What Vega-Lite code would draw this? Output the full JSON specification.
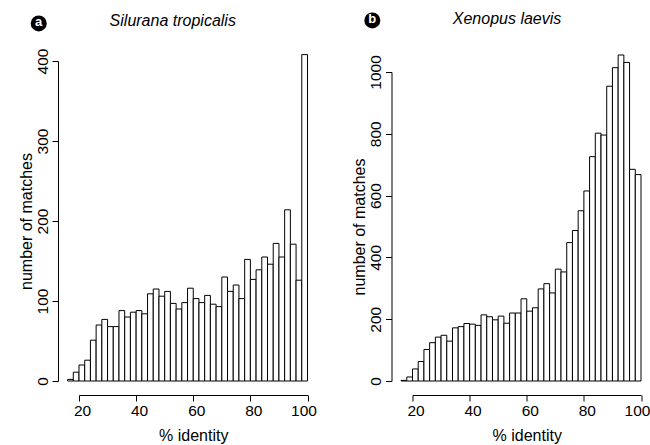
{
  "$schema": "https://vega.github.io/schema/vega-lite/v6.json",
  "padding": {"left": 18, "top": 11, "right": 0, "bottom": 0},
  "bounds": "flush",
  "spacing": 104.5,
  "config": {
    "font": "Liberation Sans",
    "view": {"stroke": null},
    "axis": {"grid": false, "domainColor": "black", "tickColor": "black", "labelColor": "black", "titleColor": "black", "labelFontSize": 15.5, "titleFontSize": 16, "titleFontWeight": "normal", "labelFont": "Liberation Sans", "titleFont": "Liberation Sans", "domainWidth": 1, "tickWidth": 1, "tickSize": 6, "labelFlush": false, "labelOverlap": false, "format": "d"},
    "title": {"font": "Liberation Sans", "fontSize": 16, "fontStyle": "italic", "fontWeight": "normal", "color": "black"}
  },
  "datasets": {
    "trop": [
      {"lo": 16, "hi": 18, "n": 2}, {"lo": 18, "hi": 20, "n": 11}, {"lo": 20, "hi": 22, "n": 20}, {"lo": 22, "hi": 24, "n": 26},
      {"lo": 24, "hi": 26, "n": 51}, {"lo": 26, "hi": 28, "n": 70}, {"lo": 28, "hi": 30, "n": 77}, {"lo": 30, "hi": 32, "n": 68},
      {"lo": 32, "hi": 34, "n": 68}, {"lo": 34, "hi": 36, "n": 88}, {"lo": 36, "hi": 38, "n": 80}, {"lo": 38, "hi": 40, "n": 86},
      {"lo": 40, "hi": 42, "n": 88}, {"lo": 42, "hi": 44, "n": 84}, {"lo": 44, "hi": 46, "n": 109}, {"lo": 46, "hi": 48, "n": 115},
      {"lo": 48, "hi": 50, "n": 106}, {"lo": 50, "hi": 52, "n": 112}, {"lo": 52, "hi": 54, "n": 97}, {"lo": 54, "hi": 56, "n": 90},
      {"lo": 56, "hi": 58, "n": 98}, {"lo": 58, "hi": 60, "n": 116}, {"lo": 60, "hi": 62, "n": 103}, {"lo": 62, "hi": 64, "n": 98},
      {"lo": 64, "hi": 66, "n": 107}, {"lo": 66, "hi": 68, "n": 96}, {"lo": 68, "hi": 70, "n": 93}, {"lo": 70, "hi": 72, "n": 130},
      {"lo": 72, "hi": 74, "n": 112}, {"lo": 74, "hi": 76, "n": 120}, {"lo": 76, "hi": 78, "n": 103}, {"lo": 78, "hi": 80, "n": 152},
      {"lo": 80, "hi": 82, "n": 127}, {"lo": 82, "hi": 84, "n": 139}, {"lo": 84, "hi": 86, "n": 155}, {"lo": 86, "hi": 88, "n": 146},
      {"lo": 88, "hi": 90, "n": 172}, {"lo": 90, "hi": 92, "n": 155}, {"lo": 92, "hi": 94, "n": 214}, {"lo": 94, "hi": 96, "n": 171},
      {"lo": 96, "hi": 98, "n": 126}, {"lo": 98, "hi": 100, "n": 408}
    ],
    "laev": [
      {"lo": 16, "hi": 18, "n": 2}, {"lo": 18, "hi": 20, "n": 13}, {"lo": 20, "hi": 22, "n": 39}, {"lo": 22, "hi": 24, "n": 63},
      {"lo": 24, "hi": 26, "n": 102}, {"lo": 26, "hi": 28, "n": 124}, {"lo": 28, "hi": 30, "n": 142}, {"lo": 30, "hi": 32, "n": 148},
      {"lo": 32, "hi": 34, "n": 129}, {"lo": 34, "hi": 36, "n": 172}, {"lo": 36, "hi": 38, "n": 176}, {"lo": 38, "hi": 40, "n": 186},
      {"lo": 40, "hi": 42, "n": 184}, {"lo": 42, "hi": 44, "n": 180}, {"lo": 44, "hi": 46, "n": 214}, {"lo": 46, "hi": 48, "n": 208},
      {"lo": 48, "hi": 50, "n": 198}, {"lo": 50, "hi": 52, "n": 210}, {"lo": 52, "hi": 54, "n": 187}, {"lo": 54, "hi": 56, "n": 220},
      {"lo": 56, "hi": 58, "n": 220}, {"lo": 58, "hi": 60, "n": 266}, {"lo": 60, "hi": 62, "n": 226}, {"lo": 62, "hi": 64, "n": 237},
      {"lo": 64, "hi": 66, "n": 298}, {"lo": 66, "hi": 68, "n": 315}, {"lo": 68, "hi": 70, "n": 285}, {"lo": 70, "hi": 72, "n": 362},
      {"lo": 72, "hi": 74, "n": 353}, {"lo": 74, "hi": 76, "n": 448}, {"lo": 76, "hi": 78, "n": 487}, {"lo": 78, "hi": 80, "n": 551},
      {"lo": 80, "hi": 82, "n": 615}, {"lo": 82, "hi": 84, "n": 726}, {"lo": 84, "hi": 86, "n": 802}, {"lo": 86, "hi": 88, "n": 796},
      {"lo": 88, "hi": 90, "n": 954}, {"lo": 90, "hi": 92, "n": 1014}, {"lo": 92, "hi": 94, "n": 1055}, {"lo": 94, "hi": 96, "n": 1031},
      {"lo": 96, "hi": 98, "n": 685}, {"lo": 98, "hi": 100, "n": 668}
    ]
  },
  "hconcat": [
    {
      "width": 228.5,
      "height": 320,
      "title": {"text": "Silurana tropicalis", "dx": -20.5, "offset": -13.5},
      "layer": [
        {
          "data": {"name": "trop"},
          "mark": {"type": "bar", "fill": "white", "stroke": "black", "strokeWidth": 1},
          "encoding": {
            "x": {"field": "lo", "type": "quantitative", "scale": {"domain": [20, 100], "nice": false, "zero": false},
                  "axis": {"values": [20, 40, 60, 80, 100], "offset": 14, "labelPadding": 2, "titlePadding": 9, "title": "% identity",
                           "labelOffset": {"condition": {"test": "datum.value === 100", "value": -4}, "value": 3}}},
            "x2": {"field": "hi"},
            "y": {"field": "n", "type": "quantitative", "scale": {"domain": [0, 400], "nice": false},
                  "axis": {"values": [0, 100, 200, 300, 400], "offset": 21, "labelAngle": -90, "labelAlign": "center", "labelBaseline": "bottom", "labelPadding": 2, "titlePadding": 1, "title": "number of matches"}},
            "y2": {"datum": 0}
          }
        },
        {
          "data": {"values": [{"panel": "a"}]},
          "mark": {"type": "point", "shape": "circle", "filled": true, "color": "black", "opacity": 1, "size": 256},
          "encoding": {"x": {"datum": 5.9}, "y": {"datum": 447}}
        },
        {
          "data": {"values": [{"panel": "a"}]},
          "mark": {"type": "text", "color": "white", "fontWeight": "bold", "fontSize": 13, "align": "center", "baseline": "middle", "dy": -1},
          "encoding": {"x": {"datum": 5.9}, "y": {"datum": 447}, "text": {"field": "panel"}}
        }
      ]
    },
    {
      "width": 228.5,
      "height": 320,
      "title": {"text": "Xenopus laevis", "dx": -19.7, "offset": -15},
      "layer": [
        {
          "data": {"name": "laev"},
          "mark": {"type": "bar", "fill": "white", "stroke": "black", "strokeWidth": 1},
          "encoding": {
            "x": {"field": "lo", "type": "quantitative", "scale": {"domain": [20, 100], "nice": false, "zero": false},
                  "axis": {"values": [20, 40, 60, 80, 100], "offset": 14, "labelPadding": 2, "titlePadding": 9, "title": "% identity",
                           "labelOffset": {"condition": {"test": "datum.value === 100", "value": -4}, "value": 3}}},
            "x2": {"field": "hi"},
            "y": {"field": "n", "type": "quantitative", "scale": {"domain": [0, 1000], "nice": false, "range": [320, 11]},
                  "axis": {"values": [0, 200, 400, 600, 800, 1000], "offset": 21, "labelAngle": -90, "labelAlign": "center", "labelBaseline": "bottom", "labelPadding": 2, "titlePadding": 1, "title": "number of matches"}},
            "y2": {"datum": 0}
          }
        },
        {
          "data": {"values": [{"panel": "b"}]},
          "mark": {"type": "point", "shape": "circle", "filled": true, "color": "black", "opacity": 1, "size": 256},
          "encoding": {"x": {"datum": 5.93}, "y": {"datum": 1167}}
        },
        {
          "data": {"values": [{"panel": "b"}]},
          "mark": {"type": "text", "color": "white", "fontWeight": "bold", "fontSize": 13, "align": "center", "baseline": "middle", "dy": -1},
          "encoding": {"x": {"datum": 5.93}, "y": {"datum": 1167}, "text": {"field": "panel"}}
        }
      ]
    }
  ]
}
